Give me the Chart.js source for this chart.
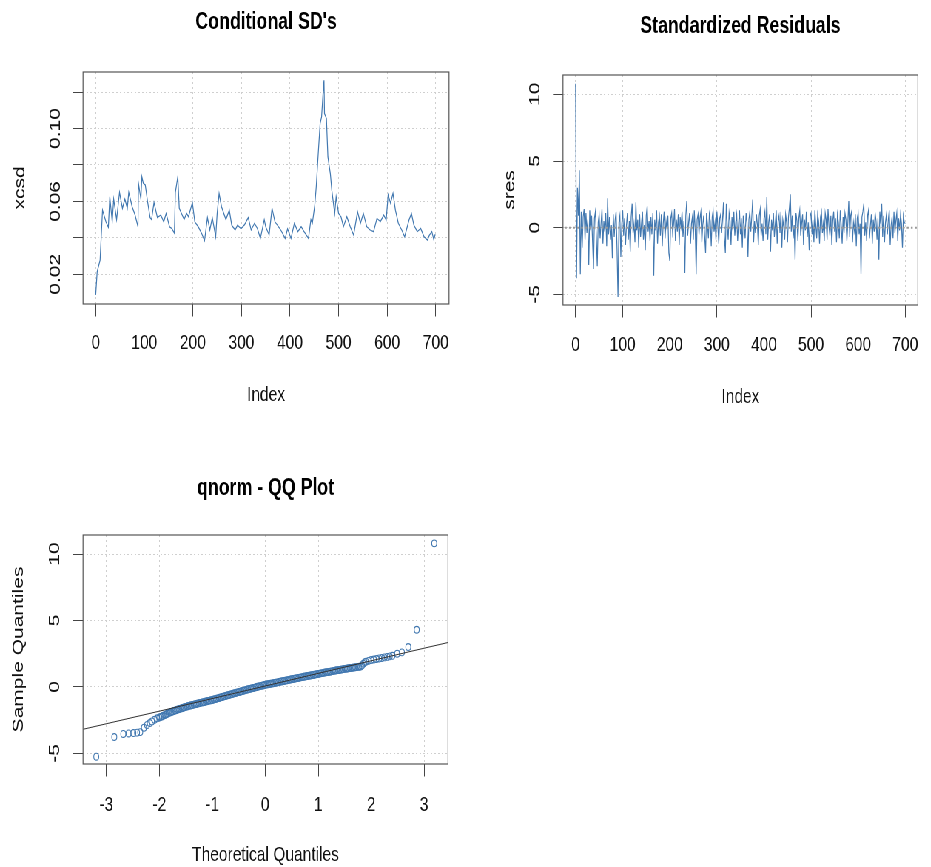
<!DOCTYPE html>
<html>
<head>
<meta charset="utf-8">
<script src="https://cdn.jsdelivr.net/npm/chart.js@4.4.0/dist/chart.umd.min.js"></script>
<style>
  html, body { margin: 0; background: #fff; overflow: hidden; }
  /* the reference is squeezed horizontally, so draw wide and squeeze */
  #page { position: absolute; left: 0; top: 0; width: 1258px; height: 867px; transform: scaleX(0.74); transform-origin: 0 0; }
  canvas { position: absolute; }
</style>
</head>
<body>
<div id="page">
  <canvas id="c1" width="629" height="430" style="left:0;top:0"></canvas>
  <canvas id="c2" width="629" height="430" style="left:629px;top:0"></canvas>
  <canvas id="c3" width="629" height="437" style="left:0;top:430px"></canvas>
</div>
<script>
// conditional SD (index, value)
const sdIndex = [0, 3, 9, 14, 21, 26, 29, 34, 37, 43, 49, 55, 60, 65, 68, 75, 81, 87, 88, 93, 95, 98, 102, 107, 112, 115, 120, 127, 134, 140, 145, 152, 157, 162, 164, 169, 172, 178, 182, 187, 191, 199, 204, 211, 218, 224, 230, 235, 240, 247, 250, 254, 259, 268, 275, 280, 287, 292, 299, 306, 314, 320, 327, 333, 339, 347, 350, 357, 363, 369, 374, 381, 390, 395, 402, 409, 416, 423, 429, 438, 443, 446, 451, 454, 459, 462, 465, 468, 470, 471, 475, 478, 483, 486, 492, 495, 500, 505, 510, 517, 524, 531, 539, 545, 551, 558, 565, 572, 579, 586, 593, 598, 602, 607, 612, 617, 623, 630, 636, 645, 650, 655, 662, 669, 676, 683, 687, 692, 696, 699];
const sdValue = [0.0087, 0.0214, 0.0278, 0.0552, 0.0488, 0.0458, 0.0625, 0.0488, 0.0613, 0.050, 0.065, 0.0562, 0.0613, 0.0562, 0.065, 0.0571, 0.0525, 0.0461, 0.0699, 0.0613, 0.0735, 0.0699, 0.069, 0.0594, 0.0511, 0.050, 0.0594, 0.0511, 0.0525, 0.0488, 0.0534, 0.0461, 0.045, 0.0425, 0.065, 0.0735, 0.0562, 0.0525, 0.050, 0.0534, 0.0516, 0.0594, 0.0488, 0.0461, 0.0425, 0.0384, 0.0511, 0.0443, 0.0511, 0.0406, 0.0534, 0.0643, 0.0571, 0.050, 0.0552, 0.047, 0.0443, 0.047, 0.045, 0.047, 0.0511, 0.0443, 0.048, 0.045, 0.0397, 0.050, 0.0461, 0.0416, 0.0562, 0.0488, 0.047, 0.0443, 0.0397, 0.045, 0.0397, 0.048, 0.0434, 0.0461, 0.0434, 0.0397, 0.050, 0.048, 0.058, 0.068, 0.09, 0.1027, 0.1064, 0.1192, 0.1265, 0.1082, 0.1055, 0.0844, 0.0753, 0.0662, 0.0534, 0.0625, 0.0534, 0.0516, 0.0461, 0.0516, 0.0461, 0.0415, 0.0543, 0.048, 0.0534, 0.0461, 0.0443, 0.0434, 0.0507, 0.0489, 0.0525, 0.0498, 0.0635, 0.059, 0.0644, 0.0552, 0.048, 0.0443, 0.0406, 0.0498, 0.0534, 0.047, 0.0434, 0.0452, 0.0406, 0.0388, 0.0415, 0.0434, 0.039, 0.042];

// standardized residuals, every 2nd index (0, 2, 4, ... 700)
const resStep = 2;
const resValues = [
  10.8, -3.8, 3.0, 0.9, 4.3, -3.5, 1.2, -1.5, 0.8, 1.4,
  -0.9, 1.1, -0.4, 0.6, -2.8, 1.3, -0.2, 0.9, -1.1, -3.1,
  0.7, 1.2, -0.6, -2.9, 0.4, 1.0, -0.8, 0.3, 1.4, -1.2,
  0.5, -0.3, 1.1, -1.4, 2.2, -0.5, 0.8, -0.9, 0.2, -2.3,
  1.0, -0.7, 0.6, 1.2, -1.6, -5.2, 0.4, 0.9, -2.2, 0.3,
  1.3, -0.6, 0.7, -1.3, 0.2, 1.1, -0.9, 0.5, -1.8, 0.8,
  1.8, -0.4, 0.3, -1.1, 1.9, -0.2, 0.6, -1.5, 1.0, -0.7,
  0.4, 1.2, -0.9, 0.2, -1.7, 0.9, 1.6, -0.3, 0.5, -1.0,
  0.8, -0.5, 1.1, -3.6, 0.6, -0.2, 1.3, -1.2, 0.4, 0.9,
  -0.6, 1.0, -1.4, 0.3, 1.2, -0.8, 0.5, -0.1, 0.9, -1.9,
  -2.5, 0.7, 1.1, -0.4, 0.2, 1.4, -1.0, 0.6, -0.3, 1.0,
  -1.3, 0.8, 0.1, 1.2, -0.7, 0.5, -3.4, 0.9, 2.0, -0.6,
  0.4, 1.1, -1.2, 0.3, 0.8, -0.9, 1.3, -0.2, -3.5, 0.6,
  1.0, -0.5, 0.7, 1.2, -1.1, 0.2, 0.9, -0.6, -1.9, 1.1,
  0.3, -0.8, 1.0, 0.5, -1.4, 0.8, 1.3, -0.3, 0.4, -0.9,
  1.2, 0.1, -1.2, 0.7, 1.0, -0.4, 0.6, 1.9, -0.7, -1.9,
  1.8, 0.2, -0.9, 1.1, 0.5, -1.3, 0.8, -0.2, 1.2, -0.6,
  0.4, 1.0, -1.0, 0.3, 1.3, -0.5, 0.7, -1.5, 0.9, 0.2,
  -0.8, 1.1, 0.4, -2.2, 0.6, 1.2, -0.3, 0.8, 2.1, -1.1,
  0.5, -0.4, 1.0, 0.2, -1.3, 0.9, 1.4, -0.6, 0.3, -1.0,
  0.7, 1.2, -0.5, 2.3, -0.9, 0.4, 1.0, -1.8, 0.6, -0.2,
  1.1, -0.7, 0.3, 1.3, -1.2, 0.5, 0.9, -0.4, 1.2, -1.5,
  0.6, 0.1, -0.9, 1.0, 0.4, -1.1, 0.8, 1.5, 2.5, -0.3,
  0.9, -0.8, 0.2, -2.4, 1.1, 0.5, -1.0, 0.7, 1.3, -0.6,
  0.3, 1.0, -1.3, 0.6, -0.2, 1.2, -0.7, 0.4, -1.7, 0.9,
  1.1, -0.5, 0.6, -1.1, 1.3, 0.2, -0.8, 1.0, 0.5, -1.2,
  0.8, 1.2, -0.4, 0.3, -1.0, 1.1, 0.6, -0.9, 1.4, 0.1,
  -0.6, 0.9, -1.3, 0.5, 1.2, -0.3, 0.7, -1.1, 1.0, 0.4,
  -0.8, 1.3, 0.2, -1.2, 0.8, -0.4, 1.1, 0.6, -1.0, 0.3,
  2.0, -0.7, 0.9, 1.2, -1.1, 0.4, -0.2, 1.0, -1.4, 0.7,
  1.1, -0.5, 0.3, -3.5, 0.8, 1.2, 1.8, -0.6, 0.4, -1.0,
  0.9, 1.3, -0.8, 0.2, 1.0, -1.2, 0.6, -0.3, 1.1, 0.5,
  -0.9, 0.7, -2.4, 1.2, 0.3, 1.8, -0.7, 0.9, -1.1, 0.4,
  1.0, -0.5, 0.6, 1.3, -1.3, 0.2, 0.8, -0.8, 1.2, -0.4,
  0.5, 1.1, -1.0, 0.7, -0.2, 1.0, 0.3, -1.5, 0.9, 0.4,
  0.3
];

// QQ plot points (theoretical, sample), the dense band read at fine spacing
const qqTheo = [-3.19, -2.85, -2.68, -2.58, -2.49, -2.42, -2.36, -2.29, -2.23, -2.18, -2.14, -2.09, -2.04,
  -2.000, -1.975, -1.950, -1.925, -1.900, -1.875, -1.850, -1.825, -1.800, -1.775, -1.750, -1.725, -1.700, -1.675, -1.650, -1.625,
  -1.600, -1.575, -1.550, -1.525, -1.500, -1.475, -1.450, -1.425, -1.400, -1.375, -1.350, -1.325, -1.300, -1.275, -1.250, -1.225,
  -1.200, -1.175, -1.150, -1.125, -1.100, -1.075, -1.050, -1.025, -1.000, -0.975, -0.950, -0.925, -0.900, -0.875, -0.850, -0.825,
  -0.800, -0.775, -0.750, -0.725, -0.700, -0.675, -0.650, -0.625, -0.600, -0.575, -0.550, -0.525, -0.500, -0.475, -0.450, -0.425,
  -0.400, -0.375, -0.350, -0.325, -0.300, -0.275, -0.250, -0.225, -0.200, -0.175, -0.150, -0.125, -0.100, -0.075, -0.050, -0.025,
  0.000, 0.025, 0.050, 0.075, 0.100, 0.125, 0.150, 0.175, 0.200, 0.225, 0.250, 0.275, 0.300, 0.325, 0.350, 0.375,
  0.400, 0.425, 0.450, 0.475, 0.500, 0.525, 0.550, 0.575, 0.600, 0.625, 0.650, 0.675, 0.700, 0.725, 0.750, 0.775,
  0.800, 0.825, 0.850, 0.875, 0.900, 0.925, 0.950, 0.975, 1.000, 1.025, 1.050, 1.075, 1.100, 1.125, 1.150, 1.175,
  1.200, 1.225, 1.250, 1.275, 1.300, 1.325, 1.350, 1.375, 1.400, 1.425, 1.450, 1.475, 1.500, 1.525, 1.550, 1.575,
  1.600, 1.625, 1.650, 1.675, 1.700, 1.725, 1.750, 1.775, 1.800, 1.825, 1.850, 1.875, 1.900,
  1.95, 2.00, 2.05, 2.10, 2.15, 2.20, 2.25, 2.30, 2.35, 2.40, 2.49, 2.58, 2.70, 2.86, 3.19];
const qqSample = [-5.25, -3.77, -3.54, -3.50, -3.47, -3.44, -3.40, -3.07, -2.86, -2.72, -2.60, -2.47, -2.36,
  -2.30, -2.26, -2.22, -2.17, -2.12, -2.07, -2.02, -1.97, -1.93, -1.89, -1.85, -1.81, -1.77, -1.74, -1.70, -1.66,
  -1.63, -1.60, -1.56, -1.53, -1.50, -1.47, -1.44, -1.41, -1.38, -1.36, -1.33, -1.30, -1.28, -1.25, -1.23, -1.20,
  -1.18, -1.15, -1.13, -1.10, -1.08, -1.05, -1.03, -1.00, -0.98, -0.95, -0.92, -0.89, -0.86, -0.83, -0.80, -0.77,
  -0.74, -0.71, -0.68, -0.65, -0.62, -0.59, -0.56, -0.53, -0.50, -0.47, -0.44, -0.41, -0.38, -0.36, -0.33, -0.30,
  -0.27, -0.24, -0.21, -0.18, -0.15, -0.13, -0.10, -0.08, -0.05, -0.02, 0.01, 0.03, 0.06, 0.08, 0.11, 0.13,
  0.16, 0.18, 0.20, 0.22, 0.24, 0.26, 0.28, 0.30, 0.32, 0.34, 0.36, 0.39, 0.41, 0.43, 0.45, 0.47,
  0.49, 0.51, 0.53, 0.56, 0.58, 0.60, 0.62, 0.64, 0.66, 0.68, 0.70, 0.72, 0.74, 0.76, 0.78, 0.80,
  0.82, 0.84, 0.86, 0.88, 0.90, 0.92, 0.94, 0.96, 0.98, 1.00, 1.02, 1.04, 1.06, 1.08, 1.10, 1.11,
  1.13, 1.15, 1.17, 1.19, 1.21, 1.23, 1.25, 1.26, 1.28, 1.30, 1.32, 1.34, 1.36, 1.37, 1.39, 1.40,
  1.42, 1.43, 1.45, 1.46, 1.48, 1.49, 1.51, 1.52, 1.54, 1.62, 1.75, 1.84, 1.90,
  1.96, 2.02, 2.06, 2.10, 2.14, 2.18, 2.22, 2.26, 2.30, 2.34, 2.50, 2.60, 3.00, 4.30, 10.80];
// qq reference line, ends read at the plot edges
const qqLineX = [-3.44, 3.45];
const qqLineY = [-3.19, 3.34];

// ticks
const indexTicks = [0, 100, 200, 300, 400, 500, 600, 700];
const sdTicksY = [0.02, 0.04, 0.06, 0.08, 0.10, 0.12];
const sdLabelsY = ['0.02', '0.06', '0.10'];
const resTicksY = [-5, 0, 5, 10];
const resLabelsY = ['-5', '0', '5', '10'];
const qqTicksX = [-3, -2, -1, 0, 1, 2, 3];

const blue = '#4278b0';
const FONT = '"Liberation Sans", Arial, Helvetica, sans-serif';
const tickFont = { family: FONT, size: 21, lineHeight: 1 };

// box, main title and rotated y labels, the way R draws them
const rFrame = {
  id: 'rFrame',
  afterDraw(chart, args, opts) {
    const { ctx, chartArea: a } = chart;
    const ys = chart.scales.y;
    ctx.save();
    ctx.strokeStyle = '#555';
    ctx.lineWidth = 1.2;
    ctx.strokeRect(a.left, a.top, a.right - a.left, a.bottom - a.top);
    ctx.fillStyle = '#000';
    ctx.textAlign = 'center';
    ctx.textBaseline = 'middle';
    ctx.font = 'bold 24px ' + FONT;
    ctx.fillText(opts.title, (a.left + a.right) / 2, opts.titleY);
    ctx.fillStyle = '#111';
    ctx.font = '21px ' + FONT;
    opts.yLabels.forEach(s => {
      ctx.save();
      ctx.translate(opts.yLabelX, ys.getPixelForValue(Number(s)));
      ctx.rotate(-Math.PI / 2);
      ctx.fillText(s, 0, 0);
      ctx.restore();
    });
    ctx.restore();
  }
};

function rPanel(id, p) {
  return new Chart(document.getElementById(id), {
    type: 'line',
    data: { datasets: p.datasets },
    options: {
      responsive: false,
      animation: false,
      events: [],
      layout: { padding: p.padding },
      plugins: { legend: { display: false }, tooltip: { enabled: false }, rFrame: p.frame },
      scales: {
        x: {
          type: 'linear', min: p.xMin, max: p.xMax,
          afterBuildTicks: s => { s.ticks = p.xTicks.map(v => ({ value: v })); },
          afterFit: s => { s.height = p.xHeight; },
          border: { display: false, dash: [2, 3] },
          grid: { color: '#cfcfcf', tickColor: '#444', tickLength: 12.5, lineWidth: 1 },
          ticks: { color: '#111', font: tickFont, padding: p.xTickPad, autoSkip: false, maxRotation: 0, callback: v => String(v) },
          title: { display: true, text: p.xTitle, color: '#111', font: tickFont, padding: { top: 0, bottom: p.xTitlePad } }
        },
        y: {
          type: 'linear', min: p.yMin, max: p.yMax,
          afterBuildTicks: s => { s.ticks = p.yTicks.map(v => ({ value: v })); },
          afterFit: s => { s.width = p.yWidth; },
          border: { display: false, dash: [2, 3] },
          grid: { color: '#cfcfcf', tickColor: '#444', tickLength: 13.5, lineWidth: 1 },
          ticks: { display: false },
          title: { display: true, text: p.yTitle, color: '#111', font: tickFont, padding: { top: p.yTitlePad, bottom: 0 } }
        }
      }
    },
    plugins: [rFrame]
  });
}

const sdPoints = sdIndex.map((x, i) => ({ x, y: sdValue[i] }));
const resPoints = resValues.map((y, i) => ({ x: i * resStep, y }));
const qqPoints = qqTheo.map((x, i) => ({ x, y: qqSample[i] }));
const qqLine = qqLineX.map((x, i) => ({ x, y: qqLineY[i] }));

rPanel('c1', {
  datasets: [{ data: sdPoints, borderColor: blue, borderWidth: 1.2, pointRadius: 0, tension: 0 }],
  padding: { left: 4, right: 22.2, top: 72, bottom: 2 },
  xMin: -26.1, xMax: 727.4, xTicks: indexTicks, xHeight: 124, xTickPad: 16, xTitle: 'Index', xTitlePad: 22.5,
  yMin: 0.0037, yMax: 0.131, yTicks: sdTicksY, yWidth: 108.2, yTitle: 'xcsd', yTitlePad: 12.5,
  frame: { title: "Conditional SD's", titleY: 22.5, yLabels: sdLabelsY, yLabelX: 75.7 }
});

rPanel('c2', {
  datasets: [
    { data: [{ x: -40, y: 0 }, { x: 740, y: 0 }], borderColor: '#999', borderWidth: 2, borderDash: [2.5, 3], pointRadius: 0 },
    { data: resPoints, borderColor: blue, borderWidth: 1.2, pointRadius: 0, tension: 0 }
  ],
  padding: { left: 4, right: 3.9, top: 75, bottom: 2 },
  xMin: -26.8, xMax: 726.8, xTicks: indexTicks, xHeight: 123, xTickPad: 17, xTitle: 'Index', xTitlePad: 20.5,
  yMin: -5.8, yMax: 11.45, yTicks: resTicksY, yWidth: 127.8, yTitle: 'sres', yTitlePad: 45.5,
  frame: { title: 'Standardized Residuals', titleY: 26, yLabels: resLabelsY, yLabelX: 94 }
});

rPanel('c3', {
  datasets: [
    { data: qqLine, borderColor: '#333', borderWidth: 1, pointRadius: 0 },
    { data: qqPoints, showLine: false, pointStyle: 'circle', pointRadius: 3.4, pointBorderWidth: 1.1,
      pointBorderColor: blue, pointBackgroundColor: 'rgba(0,0,0,0)', borderColor: blue }
  ],
  padding: { left: 4, right: 23.6, top: 105, bottom: 0 },
  xMin: -3.44, xMax: 3.45, xTicks: qqTicksX, xHeight: 103, xTickPad: 18, xTitle: 'Theoretical Quantiles', xTitlePad: 1.5,
  yMin: -5.8, yMax: 11.43, yTicks: resTicksY, yWidth: 108.2, yTitle: 'Sample Quantiles', yTitlePad: 11.2,
  frame: { title: 'qnorm - QQ Plot', titleY: 58, yLabels: resLabelsY, yLabelX: 74.3 }
});
</script>
</body>
</html>
